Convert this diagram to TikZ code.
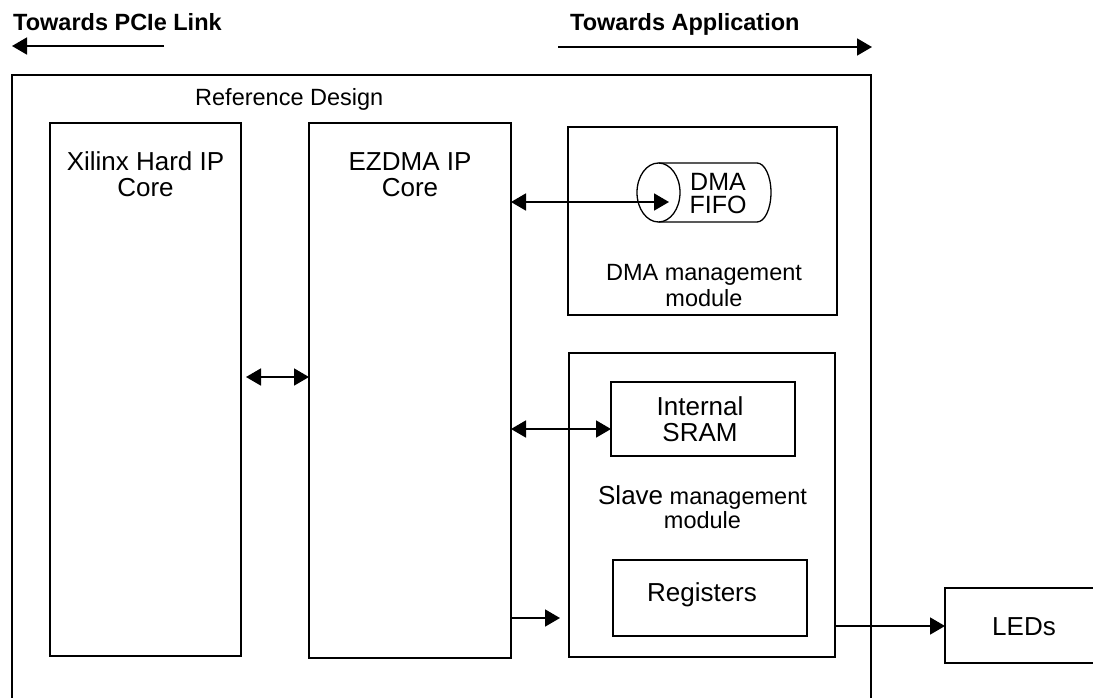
\documentclass[tikz,border=0pt]{standalone}
\usepackage{fontspec}
\setmainfont{Liberation Sans}
\usetikzlibrary{arrows.meta}
\tikzset{
  blk/.style={draw, line width=1.8pt, rectangle, inner sep=0pt, outer sep=0pt},
  txtA/.style={inner sep=0pt, anchor=base, font=\fontsize{26}{28}\selectfont},
  txtB/.style={inner sep=0pt, anchor=base, font=\fontsize{23.5}{26}\selectfont},
  hdr/.style={inner sep=0pt, anchor=base west, font=\fontsize{23.5}{26}\selectfont\bfseries},
  conn/.style={line width=1.8pt},
  dbl/.style={conn, {Triangle[length=15pt,width=17pt]}-{Triangle[length=15pt,width=17pt]}},
  sgl/.style={conn, -{Triangle[length=15pt,width=17pt]}},
}
\begin{document}
\begin{tikzpicture}[x=1pt,y=-1pt]
\useasboundingbox (0,0) rectangle (1093,697);
\fill[white] (0,0) rectangle (1093,697);

% headers
\node[hdr] (hpcie) at (13,30) {Towards PCIe Link};
\node[hdr] (happ) at (570,30) {Towards Application};
\coordinate (pcieS) at (164,46);
\coordinate (pcieE) at (12,46);
\coordinate (appS) at (558,47);
\coordinate (appE) at (872,47);
\draw[sgl] (pcieS) -- (pcieE);
\draw[sgl] (appS) -- (appE);

% outer frame
\node[blk, minimum width=859pt, minimum height=660pt] (outer) at (441.5,405) {};
\node[txtB, anchor=base west] (reftxt) at (195,105) {Reference Design};

% Xilinx
\node[blk, minimum width=191pt, minimum height=533pt] (xilinx) at (145.5,389.5) {};
\node[txtA] (xilA) at (145.5,170) {Xilinx Hard IP};
\node[txtA] (xilB) at (145.5,196) {Core};

% EZDMA
\node[blk, minimum width=202pt, minimum height=535pt] (ezdma) at (410,390.5) {};
\node[txtA] (ezA) at (410,170) {EZDMA IP};
\node[txtA] (ezB) at (410,196) {Core};

% DMA management
\node[blk, minimum width=269pt, minimum height=188pt] (dma) at (702.5,221) {};
\draw[line width=1.3pt] (658.5,163) -- (757,163)
  arc[start angle=-90, end angle=90, x radius=14, y radius=29.5] -- (658.5,222);
\draw[line width=1.3pt] (658.5,192.5) ellipse[x radius=21.5, y radius=29.5];
\node[inner sep=0pt, anchor=base, font=\fontsize{25}{25}\selectfont] (fifoA) at (718,190) {DMA};
\node[inner sep=0pt, anchor=base, font=\fontsize{25}{25}\selectfont] (fifoB) at (718,213) {FIFO};
\coordinate (fifo) at (669,202);
\node[txtB] (dmaA) at (704,280) {DMA management};
\node[txtB] (dmaB) at (704,306) {module};

% Slave management
\node[blk, minimum width=266pt, minimum height=304pt] (slave) at (702,505) {};
\node[blk, minimum width=184pt, minimum height=74pt] (sram) at (703,419) {};
\node[txtA] (sramA) at (700,415) {Internal};
\node[txtA] (sramB) at (700,441) {SRAM};
\node[inner sep=0pt, anchor=base] (slA) at (702.5,504) {\fontsize{26}{28}\selectfont Slave\fontsize{23.5}{26}\selectfont{} management};
\node[txtB] (slB) at (702.5,528) {module};
\node[blk, minimum width=194pt, minimum height=76pt] (regs) at (710,598) {};
\node[txtA] (regA) at (702,601) {Registers};

% LEDs
\node[blk, minimum width=165pt, minimum height=75pt] (leds) at (1027.5,625.5) {};
\node[txtA] (ledA) at (1024,635) {LEDs};

% connectors
\coordinate (c1) at (246,377);
\draw[dbl] (c1) -- (ezdma.west |- c1);
\draw[dbl] (ezdma.east |- fifo) -- (fifo);
\coordinate (c2) at (611,429);
\draw[dbl] (ezdma.east |- c2) -- (c2);
\coordinate (c3) at (560,618);
\draw[sgl] (ezdma.east |- c3) -- (c3);
\coordinate (c4) at (835,626);
\draw[sgl] (slave.east |- c4) -- (leds.west |- c4);
\end{tikzpicture}
\end{document}
